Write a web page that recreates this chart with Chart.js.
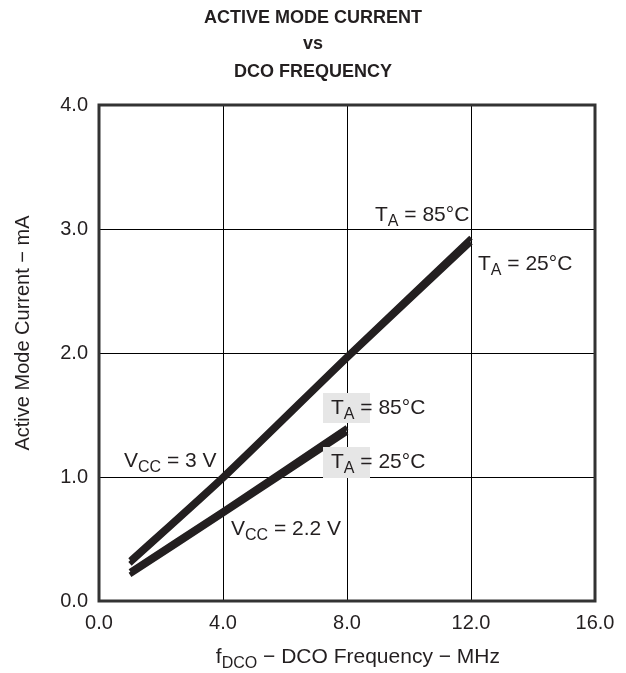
<!DOCTYPE html>
<html>
<head>
<meta charset="utf-8">
<script src="https://cdn.jsdelivr.net/npm/chart.js@4.4.1/dist/chart.umd.min.js"></script>
<style>
html,body{margin:0;padding:0;background:#fff;}
#wrap{width:626px;height:673px;position:relative;}
</style>
</head>
<body>
<div id="wrap"><canvas id="c"></canvas></div>
<script>
// ---- data ----
const freqMHz3V = [1, 4, 8, 12];
const current3V_85C = [0.33, 1.01, 1.98, 2.93];
const current3V_25C = [0.30, 0.98, 1.95, 2.89];
const freqMHz22V = [1, 4, 8];
const current22V_85C = [0.24, 0.73, 1.40];
const current22V_25C = [0.21, 0.70, 1.36];
const xTicks = [0, 4, 8, 12, 16];
const yTicks = [0, 1, 2, 3, 4];
const titleLines = ["ACTIVE MODE CURRENT", "vs", "DCO FREQUENCY"];

const INK = '#231f20';
const FONT = '"Liberation Sans", Arial, Helvetica, sans-serif';
const LBL = 21;

function pts(xs, ys){ return xs.map((x,i)=>({x:x, y:ys[i]})); }
function ds(label, data){
  return {label, data, borderColor: INK, borderWidth: 5, pointRadius: 0, tension: 0.2, fill:false, borderCapStyle:'butt'};
}

function drawSub(ctx, x, y, parts, size){
  size = size || LBL;
  let cx = x;
  for (const [t, sub] of parts){
    ctx.font = (sub ? Math.round(size*0.78) : size) + 'px ' + FONT;
    ctx.fillText(t, cx, y + (sub ? 5 : 0));
    cx += ctx.measureText(t).width;
  }
  return cx - x;
}
function measureSub(ctx, parts, size){
  let w = 0;
  for (const [t, sub] of parts){
    ctx.font = (sub ? Math.round(size*0.78) : size) + 'px ' + FONT;
    w += ctx.measureText(t).width;
  }
  return w;
}

const textPlugin = {
  id: 'texts',
  beforeDatasetsDraw(chart){
    const {ctx, chartArea:a} = chart;
    ctx.save();
    ctx.strokeStyle = '#333';
    ctx.lineWidth = 3;
    ctx.strokeRect(a.left, a.top, a.right - a.left, a.bottom - a.top);
    ctx.restore();
  },
  afterDatasetsDraw(chart){
    const {ctx} = chart;
    ctx.save();
    ctx.fillStyle = INK;
    ctx.textBaseline = 'alphabetic';
    // title
    ctx.font = 'bold 18px ' + FONT;
    ctx.textAlign = 'center';
    const tb = [23, 49, 77];
    titleLines.forEach((t,i)=>ctx.fillText(t, 313, tb[i]));
    ctx.textAlign = 'left';
    // upper labels
    drawSub(ctx, 375, 221, [['T',0],['A',1],[' = 85°C',0]]);
    drawSub(ctx, 478, 270, [['T',0],['A',1],[' = 25°C',0]]);
    // lower labels with grey boxes
    ctx.fillStyle = '#e6e6e6';
    ctx.fillRect(323, 393, 47, 30);
    ctx.fillRect(323, 447, 47, 31);
    ctx.fillStyle = INK;
    drawSub(ctx, 331, 414, [['T',0],['A',1],[' = 85°C',0]]);
    drawSub(ctx, 331, 468, [['T',0],['A',1],[' = 25°C',0]]);
    // Vcc labels
    drawSub(ctx, 124, 467, [['V',0],['CC',1],[' = 3 V',0]]);
    drawSub(ctx, 231, 535, [['V',0],['CC',1],[' = 2.2 V',0]]);
    // x axis title
    const xParts = [['f',0],['DCO',1],[' \u2212 DCO Frequency \u2212 MHz',0]];
    const w = measureSub(ctx, xParts, 21);
    drawSub(ctx, 500 - w, 663, xParts, 21);
    // y axis title
    ctx.save();
    ctx.translate(29, 333);
    ctx.rotate(-Math.PI/2);
    ctx.textAlign = 'center';
    ctx.font = '20px ' + FONT;
    ctx.fillText('Active Mode Current \u2212 mA', 0, 0);
    ctx.restore();
    ctx.restore();
  }
};

new Chart(document.getElementById('c'), {
  type: 'line',
  data: {
    datasets: [
      ds('3 V, 85°C', pts(freqMHz3V, current3V_85C)),
      ds('3 V, 25°C', pts(freqMHz3V, current3V_25C)),
      ds('2.2 V, 85°C', pts(freqMHz22V, current22V_85C)),
      ds('2.2 V, 25°C', pts(freqMHz22V, current22V_25C))
    ]
  },
  options: {
    responsive: true,
    maintainAspectRatio: false,
    animation: false,
    devicePixelRatio: 1,
    layout: {padding: {top: 105, right: 31, left: 0, bottom: 0}},
    plugins: {legend: {display: false}, tooltip: {enabled: false}, title: {display:false}},
    scales: {
      x: {
        type: 'linear', min: 0, max: 16,
        afterBuildTicks(s){ s.ticks = xTicks.map(v=>({value:v})); },
        afterFit(s){ s.height = 72; },
        grid: {color: '#000', lineWidth: 1, drawTicks: false},
        border: {display: false},
        ticks: {padding: 10, color: INK, font: {family: FONT, size: 20}, callback: v => Number(v).toFixed(1), maxRotation: 0}
      },
      y: {
        type: 'linear', min: 0, max: 4,
        afterBuildTicks(s){ s.ticks = yTicks.map(v=>({value:v})); },
        afterFit(s){ s.width = 99; },
        grid: {color: '#000', lineWidth: 1, drawTicks: false},
        border: {display: false},
        ticks: {padding: 11, color: INK, font: {family: FONT, size: 20}, callback: v => Number(v).toFixed(1)}
      }
    }
  },
  plugins: [textPlugin]
});
</script>
</body>
</html>
